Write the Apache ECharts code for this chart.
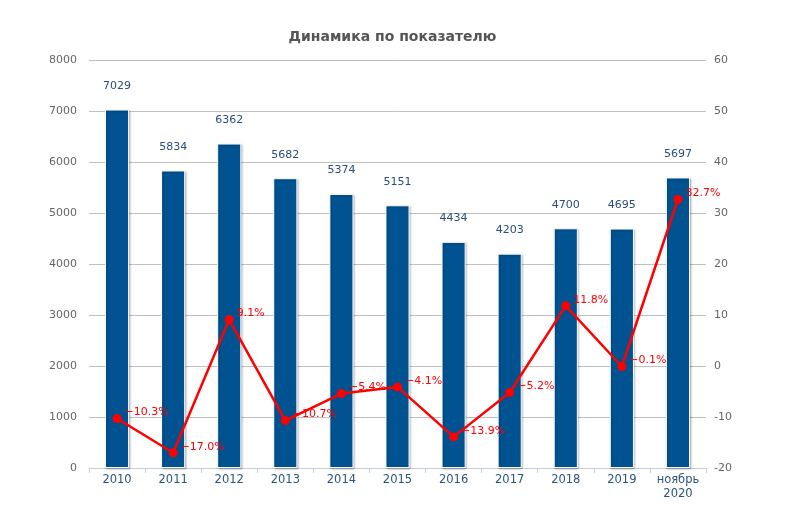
<!DOCTYPE html>
<html>
<head>
<meta charset="utf-8">
<script src="https://cdn.jsdelivr.net/npm/echarts@6/dist/echarts.min.js"></script>
<style>
  html, body { margin: 0; padding: 0; background: #fff; }
  #main { width: 785px; height: 506px; }
</style>
</head>
<body>
<div id="main"></div>
<script>
// данные графика
const categories = ['2010', '2011', '2012', '2013', '2014', '2015', '2016', '2017', '2018', '2019', 'ноябрь\n2020'];
const values = [7029, 5834, 6362, 5682, 5374, 5151, 4434, 4203, 4700, 4695, 5697];
const changes = [-10.3, -17.0, 9.1, -10.7, -5.4, -4.1, -13.9, -5.2, 11.8, -0.1, 32.7];

const chart = echarts.init(document.getElementById('main'));
const font = 'DejaVu Sans, Verdana, sans-serif';

chart.setOption({
    backgroundColor: '#fff',
    animation: false,
    title: {
        text: 'Динамика по показателю',
        left: 'center',
        top: 25,
        textStyle: { fontFamily: font, fontSize: 14, fontWeight: 'bold', color: '#555' }
    },
    grid: { left: 89, right: 79, top: 60, bottom: 38 },
    xAxis: {
        type: 'category',
        data: categories,
        axisLine: { lineStyle: { color: '#c0d0e0' } },
        axisTick: { show: true, length: 5, lineStyle: { color: '#c0d0e0' } },
        axisLabel: { interval: 0, fontFamily: font, fontSize: 11.5, color: '#2b5580', margin: 5, lineHeight: 14 }
    },
    yAxis: [
        {
            type: 'value', min: 0, max: 8000, interval: 1000,
            axisLine: { show: false }, axisTick: { show: false },
            axisLabel: { fontFamily: font, fontSize: 11, color: '#666', margin: 12, formatter: v => String(v) },
            splitLine: { lineStyle: { color: '#c0c0c0' } }
        },
        {
            type: 'value', min: -20, max: 60, interval: 10,
            axisLine: { show: false }, axisTick: { show: false },
            axisLabel: { fontFamily: font, fontSize: 11, color: '#666', margin: 8 },
            splitLine: { show: false }
        }
    ],
    series: [
        {
            type: 'bar',
            data: values,
            barWidth: '43%',
            itemStyle: {
                color: '#005291',
                borderColor: '#fff',
                borderWidth: 1,
                shadowColor: 'rgba(0,0,0,0.25)',
                shadowOffsetX: 1,
                shadowOffsetY: 1,
                shadowBlur: 2
            },
            label: {
                show: true, position: 'top', distance: 18,
                fontFamily: font, fontSize: 11, color: '#2b4c7e'
            }
        },
        {
            type: 'line',
            yAxisIndex: 1,
            data: changes,
            symbol: 'circle',
            symbolSize: 9,
            lineStyle: { color: '#ff0000', width: 2.5 },
            itemStyle: { color: '#ff0000' },
            label: {
                show: true, position: 'right', offset: [-2, -6],
                fontFamily: font, fontSize: 11, color: '#ff0000',
                formatter: p => (p.value < 0 ? '−' + Math.abs(p.value).toFixed(1) : p.value.toFixed(1)) + '%'
            }
        }
    ]
});
</script>
</body>
</html>
